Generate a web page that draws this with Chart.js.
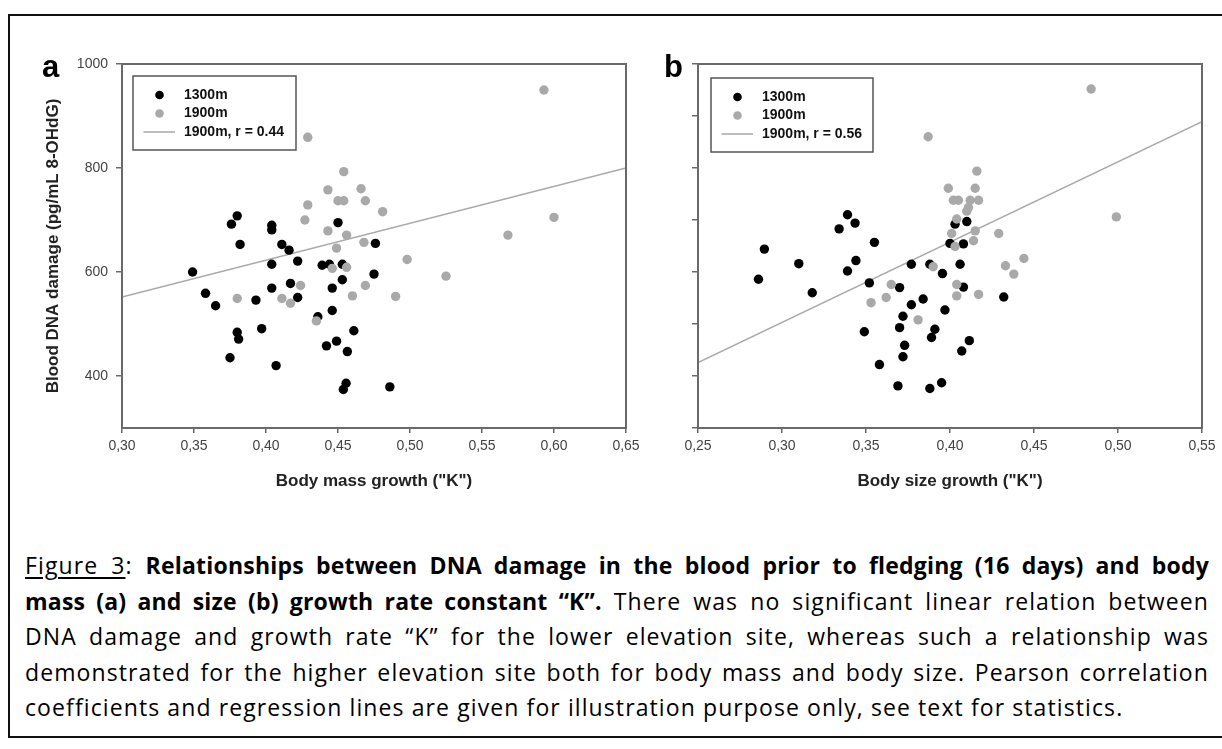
<!DOCTYPE html>
<html>
<head>
<meta charset="utf-8">
<script src="https://cdn.jsdelivr.net/npm/chart.js@4.4.1/dist/chart.umd.min.js"></script>
<style>
  html, body { margin: 0; padding: 0; background: #fff; }
  body { width: 1222px; height: 749px; position: relative; overflow: hidden; }
  #frame { position: absolute; left: 8px; top: 14px; width: 1240px; height: 724px;
           border: 2px solid #111; box-sizing: border-box; }
  canvas { position: absolute; top: 0; }
  #chartA { left: 0; }
  #chartB { left: 640px; }
  #caption { position: absolute; left: 25px; top: 548px; width: 1184px;
             font-family: "Open Sans", sans-serif; font-size: 23px;
             letter-spacing: 1.1px; line-height: 35.5px; color: #000; }
  #caption div { white-space: nowrap; text-align: justify; text-align-last: justify; }
  #caption div.last { text-align: left; text-align-last: left; }
  #caption b { font-weight: 700; letter-spacing: 0.2px; }
  #caption u { text-decoration-thickness: 1.5px; text-underline-offset: 3px; }
</style>
</head>
<body>
<div id="frame"></div>
<canvas id="chartA" width="660" height="520"></canvas>
<canvas id="chartB" width="582" height="520"></canvas>
<div id="caption">
  <div><u>Figure 3</u>: <b>Relationships between DNA damage in the blood prior to fledging (16 days) and body</b></div>
  <div><b>mass (a) and size (b) growth rate constant “K”.</b> There was no significant linear relation between</div>
  <div>DNA damage and growth rate “K” for the lower elevation site, whereas such a relationship was</div>
  <div>demonstrated for the higher elevation site both for body mass and body size. Pearson correlation</div>
  <div class="last">coefficients and regression lines are given for illustration purpose only, see text for statistics.</div>
</div>
<script>
// axis ticks
const X_TICKS_A = [0.30, 0.35, 0.40, 0.45, 0.50, 0.55, 0.60, 0.65];
const X_TICKS_B = [0.25, 0.30, 0.35, 0.40, 0.45, 0.50, 0.55];
const Y_TICKS_A = [400, 600, 800, 1000];
const Y_TICKS_B = [300, 400, 500, 600, 700, 800, 900, 1000];

// (a) body mass growth K vs blood DNA damage
const massK1300 = [0.349, 0.358, 0.365, 0.376, 0.380, 0.382, 0.380, 0.381, 0.375, 0.393,
  0.397, 0.404, 0.404, 0.407, 0.404, 0.404, 0.411, 0.416, 0.417, 0.422,
  0.422, 0.436, 0.439, 0.444, 0.446, 0.446, 0.442, 0.449, 0.450, 0.453,
  0.476, 0.453, 0.475, 0.461, 0.4565, 0.4556, 0.4537, 0.486];
const dnaMass1300 = [600, 559, 535, 692, 708, 653, 484, 471, 435, 546,
  491, 615, 569, 420, 690, 681, 653, 642, 578, 621,
  551, 514, 613, 615, 569, 526, 458, 467, 695, 615,
  655, 585, 596, 487, 447, 386, 374, 379];
const massK1900 = [0.593, 0.429, 0.454, 0.443, 0.466, 0.450, 0.454, 0.469, 0.429, 0.481,
  0.427, 0.443, 0.600, 0.568, 0.456, 0.449, 0.468, 0.498, 0.525, 0.446,
  0.456, 0.424, 0.469, 0.411, 0.417, 0.460, 0.490, 0.435, 0.380];
const dnaMass1900 = [950, 859, 793, 758, 760, 737, 737, 737, 729, 716,
  700, 679, 705, 671, 671, 646, 657, 624, 592, 607,
  609, 574, 574, 549, 540, 554, 553, 506, 549];
const fitMassK = [0.30, 0.65];
const fitMassDna = [552, 800];

// (b) body size growth K vs blood DNA damage
const sizeK1300 = [0.2895, 0.286, 0.310, 0.318, 0.339, 0.3435, 0.334, 0.355, 0.344, 0.339,
  0.352, 0.349, 0.358, 0.370, 0.377, 0.388, 0.384, 0.377, 0.372, 0.370,
  0.373, 0.372, 0.369, 0.3955, 0.397, 0.391, 0.389, 0.388, 0.395, 0.400,
  0.408, 0.403, 0.410, 0.406, 0.408, 0.4115, 0.407, 0.432];
const dnaSize1300 = [644, 586, 616, 560, 710, 694, 683, 657, 622, 602,
  579, 485, 422, 570, 615, 615, 548, 537, 515, 493,
  459, 437, 381, 597, 527, 490, 474, 376, 387, 655,
  654, 692, 697, 615, 571, 468, 448, 552];
const sizeK1900 = [0.387, 0.416, 0.399, 0.415, 0.402, 0.405, 0.412, 0.417, 0.411, 0.410,
  0.404, 0.429, 0.401, 0.415, 0.414, 0.403, 0.444, 0.433, 0.438, 0.390,
  0.484, 0.499, 0.365, 0.362, 0.353, 0.404, 0.404, 0.417, 0.381];
const dnaSize1900 = [860, 794, 761, 761, 738, 738, 738, 738, 724, 717,
  702, 674, 674, 679, 660, 649, 626, 612, 596, 610,
  952, 706, 576, 551, 541, 576, 554, 557, 508];
const fitSizeK = [0.25, 0.55];
const fitSizeDna = [426, 889];

const AXIS_GREY = '#6a6a6a';
const DOT_GREY = '#a9a9a9';
const FONT = '"Liberation Sans", Arial, Helvetica, sans-serif';

const pts = (xs, ys) => xs.map((x, i) => ({ x, y: ys[i] }));
const comma = (v) => v.toFixed(2).replace('.', ',');

// box round the plot area
const plotBox = {
  id: 'plotBox',
  afterDraw(chart) {
    const { ctx, chartArea: a } = chart;
    ctx.save();
    ctx.strokeStyle = AXIS_GREY;
    ctx.lineWidth = 2;
    ctx.strokeRect(a.left, a.top, a.right - a.left, a.bottom - a.top);
    ctx.restore();
  }
};

// framed legend in the top left corner + panel letter
const boxLegend = {
  id: 'boxLegend',
  afterDraw(chart, args, opts) {
    const { ctx, chartArea: a } = chart;
    const bx = a.left + opts.dx, by = a.top + opts.dy;
    ctx.save();
    ctx.strokeStyle = '#555';
    ctx.lineWidth = 1.5;
    ctx.strokeRect(bx, by, opts.w, opts.h);

    ctx.font = 'bold 14px ' + FONT;
    ctx.textBaseline = 'middle';
    ctx.textAlign = 'left';
    const rows = [by + 19, by + 37.5, by + 56];
    ctx.fillStyle = '#000';
    ctx.beginPath(); ctx.arc(bx + 26.5, rows[0], 4.3, 0, Math.PI * 2); ctx.fill();
    ctx.fillStyle = DOT_GREY;
    ctx.beginPath(); ctx.arc(bx + 26.5, rows[1], 4.3, 0, Math.PI * 2); ctx.fill();
    ctx.strokeStyle = DOT_GREY;
    ctx.lineWidth = 1.5;
    ctx.beginPath(); ctx.moveTo(bx + 10.5, rows[2]); ctx.lineTo(bx + 42, rows[2]); ctx.stroke();
    ctx.fillStyle = '#111';
    ctx.fillText('1300m', bx + 51, rows[0]);
    ctx.fillText('1900m', bx + 51, rows[1]);
    ctx.fillText(opts.fitLabel, bx + 51, rows[2]);

    ctx.font = 'bold 31px ' + FONT;
    ctx.textBaseline = 'alphabetic';
    ctx.fillStyle = '#000';
    ctx.fillText(opts.letter, opts.letterX, 77);
    ctx.restore();
  }
};

function makePanel(canvasId, cfg) {
  return new Chart(document.getElementById(canvasId), {
    type: 'scatter',
    data: {
      datasets: [
        {
          label: '1900m', data: pts(cfg.x1900, cfg.y1900), order: 1,
          backgroundColor: DOT_GREY, borderWidth: 0, pointRadius: 4.7
        },
        {
          label: '1300m', data: pts(cfg.x1300, cfg.y1300), order: 2,
          backgroundColor: '#000', borderWidth: 0, pointRadius: 4.7
        },
        {
          label: cfg.fitLabel, data: pts(cfg.fitX, cfg.fitY), order: 3,
          showLine: true, borderColor: DOT_GREY, borderWidth: 1.5, pointRadius: 0
        }
      ]
    },
    options: {
      responsive: false,
      devicePixelRatio: 1,
      animation: false,
      events: [],
      layout: { autoPadding: false, padding: { left: 0, top: 64, right: cfg.padRight, bottom: 0 } },
      plugins: {
        legend: { display: false },
        tooltip: { enabled: false },
        boxLegend: cfg.legend
      },
      scales: {
        x: {
          type: 'linear',
          min: cfg.xTicks[0],
          max: cfg.xTicks[cfg.xTicks.length - 1],
          afterBuildTicks: (s) => { s.ticks = cfg.xTicks.map((v) => ({ value: v })); },
          afterFit: (s) => { s.height = 92; },
          border: { display: false },
          grid: { drawOnChartArea: false, drawTicks: true, tickLength: 5, color: AXIS_GREY, lineWidth: 1.5 },
          ticks: {
            padding: 5, color: '#444', maxRotation: 0, autoSkip: false,
            font: { family: FONT, size: 14 },
            callback: (v) => comma(v)
          },
          title: {
            display: true, text: cfg.xTitle, color: '#222',
            font: { family: FONT, size: 17, weight: 'bold' },
            padding: { top: 0, bottom: 28 }
          }
        },
        y: {
          min: 300,
          max: 1000,
          afterBuildTicks: (s) => { s.ticks = cfg.yTicks.map((v) => ({ value: v })); },
          afterFit: (s) => { s.width = cfg.yWidth; },
          border: { display: false },
          grid: { drawOnChartArea: false, drawTicks: true, tickLength: 6, color: AXIS_GREY, lineWidth: 1.5 },
          ticks: {
            display: cfg.yLabels, padding: 8, color: '#444',
            font: { family: FONT, size: 14 },
            callback: (v) => String(v)
          },
          title: {
            display: !!cfg.yTitle, text: cfg.yTitle || '', color: '#222',
            font: { family: FONT, size: 17, weight: 'bold' },
            padding: { top: 43, bottom: 0 }
          }
        }
      }
    },
    plugins: [plotBox, boxLegend]
  });
}

makePanel('chartA', {
  x1300: massK1300, y1300: dnaMass1300, x1900: massK1900, y1900: dnaMass1900,
  fitX: fitMassK, fitY: fitMassDna, fitLabel: '1900m, r = 0.44',
  xTicks: X_TICKS_A, yTicks: Y_TICKS_A, yLabels: true, yWidth: 122, padRight: 34,
  xTitle: 'Body mass growth ("K")', yTitle: 'Blood DNA damage (pg/mL 8-OHdG)',
  legend: { dx: 11, dy: 12, w: 163, h: 74, fitLabel: '1900m, r = 0.44', letter: 'a', letterX: 42 }
});

makePanel('chartB', {
  x1300: sizeK1300, y1300: dnaSize1300, x1900: sizeK1900, y1900: dnaSize1900,
  fitX: fitSizeK, fitY: fitSizeDna, fitLabel: '1900m, r = 0.56',
  xTicks: X_TICKS_B, yTicks: Y_TICKS_B, yLabels: false, yWidth: 58, padRight: 20,
  xTitle: 'Body size growth ("K")', yTitle: null,
  legend: { dx: 13, dy: 14, w: 162, h: 74, fitLabel: '1900m, r = 0.56', letter: 'b', letterX: 24 }
});
</script>
</body>
</html>
